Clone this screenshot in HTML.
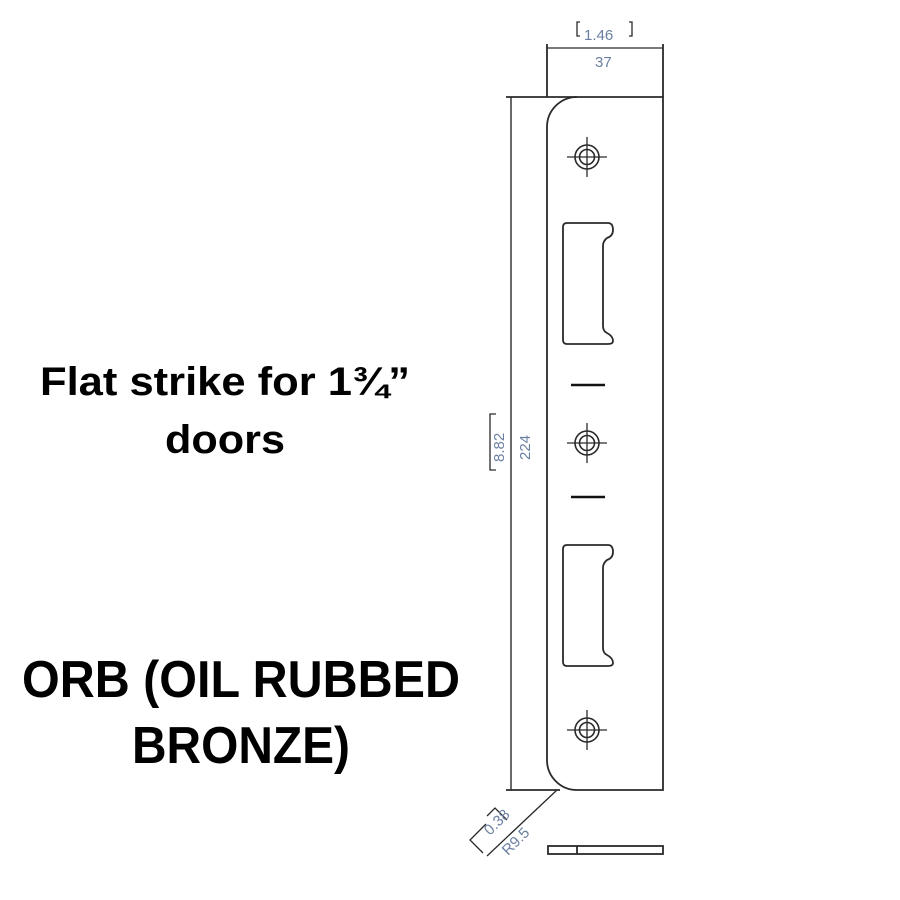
<!DOCTYPE html>
<html><head><meta charset="utf-8"><style>html,body{margin:0;padding:0;background:#fff}svg{display:block}</style></head>
<body>
<svg width="900" height="900" viewBox="0 0 900 900" xmlns="http://www.w3.org/2000/svg">
<g font-family="Liberation Sans, sans-serif" font-weight="bold" fill="#000">
<text x="40" y="395" font-size="40" textLength="370" lengthAdjust="spacingAndGlyphs">Flat strike for 1¾”</text>
<text x="165" y="453" font-size="40" textLength="120" lengthAdjust="spacingAndGlyphs">doors</text>
<text x="22" y="697" font-size="52" textLength="438" lengthAdjust="spacingAndGlyphs">ORB (OIL RUBBED</text>
<text x="132" y="763" font-size="52" textLength="218" lengthAdjust="spacingAndGlyphs">BRONZE)</text>
</g>
<g fill="none" stroke="#2a2a2a" stroke-width="1.8">
<path d="M577 97 H663 V790 H577 A30 30 0 0 1 547 760 V127 A30 30 0 0 1 577 97 Z"/>
<line x1="506" y1="97" x2="577" y2="97"/>
<line x1="547" y1="44" x2="547" y2="97"/>
<line x1="663" y1="44" x2="663" y2="97"/>
<line x1="547" y1="48" x2="663" y2="48" stroke-width="1.2"/>
<path d="M580 22 h-3 v14 h3 M629 22 h3 v14 h-3" stroke-width="1.3"/>
<line x1="511" y1="97" x2="511" y2="790" stroke-width="1.4"/>
<line x1="506" y1="790" x2="560" y2="790"/>
<path d="M496 414 h-6 v56 h6" stroke-width="1.3"/>
<path d="M567 223 H608 Q613 223 613 230 Q613 236 607 238 Q603 241 603 246 V326 Q603 331 607 333 Q613 336 613 341 Q613 344 608 344 H567 Q563 344 563 340 V227 Q563 223 567 223 Z"/>
<path d="M567 545 H608 Q613 545 613 552 Q613 558 607 560 Q603 563 603 568 V648 Q603 653 607 655 Q613 658 613 663 Q613 666 608 666 H567 Q563 666 563 662 V549 Q563 545 567 545 Z"/>
<line x1="487" y1="856" x2="557" y2="790" stroke-width="1.3"/>
<path d="M483 853 l-13 -13 l16 -16 M507 820 l-12 -12 l-8 8" stroke-width="1.3"/>
<rect x="548" y="846" width="115" height="8"/>
<line x1="577" y1="846" x2="577" y2="854"/>
</g>
<g stroke="#111" stroke-width="2.5">
<line x1="571" y1="385" x2="605" y2="385"/>
<line x1="571" y1="497" x2="605" y2="497"/>
</g>
<g fill="none" stroke="#2a2a2a" stroke-width="1.6">
<g transform="translate(587,157)"><circle r="12"/><circle r="7.5"/><path d="M-20 0H20M0 -20V20" stroke-width="1.3"/></g>
<g transform="translate(587,443)"><circle r="12"/><circle r="7.5"/><path d="M-20 0H20M0 -20V20" stroke-width="1.3"/></g>
<g transform="translate(587,730)"><circle r="12"/><circle r="7.5"/><path d="M-20 0H20M0 -20V20" stroke-width="1.3"/></g>
</g>
<g font-family="Liberation Sans, sans-serif" font-size="15" fill="#6a7fa0">
<text x="584" y="40">1.46</text>
<text x="595" y="67">37</text>
<text transform="translate(504,462) rotate(-90)">8.82</text>
<text transform="translate(530,460) rotate(-90)">224</text>
<text transform="translate(490,836) rotate(-45)">0.38</text>
<text transform="translate(508,856) rotate(-45)">R9.5</text>
</g>
</svg>
</body></html>
